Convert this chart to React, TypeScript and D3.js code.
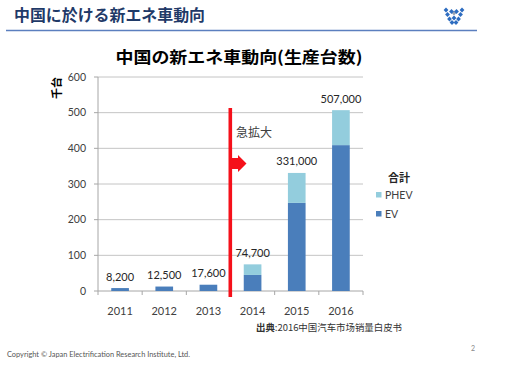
import React from 'react';
import * as d3 from 'd3';

const years = ['2011', '2012', '2013', '2014', '2015', '2016'];
const evValues = [8.2, 12.5, 17.6, 45, 247, 409];
const phevValues = [0, 0, 0, 29.7, 84, 98];
const totalLabels = ['8,200', '12,500', '17,600', '74,700', '331,000', '507,000'];
const yTicks = [0, 100, 200, 300, 400, 500, 600];
const seriesNames = ['PHEV', 'EV'];

const EV_COLOR = '#4a7ebb';
const PHEV_COLOR = '#93cddd';
const FONT = 'Lato, "Open Sans", "Noto Sans", sans-serif';
const JP = '"Noto Sans CJK JP", "Noto Sans", sans-serif';

export default function App() {
  const x = d3.scaleBand<string>().domain(years).range([98, 363]).paddingInner(0.6).paddingOuter(0.3);
  const y = d3.scaleLinear().domain([0, 600]).range([291, 77]);
  const step = x.step();
  const boundaries = d3.range(years.length + 1).map((i) => 98 + i * step);

  const B = '#2d6cc0';
  const logoPts: [number, number, string][] = [
    [446, 10, B], [447.5, 14.5, B], [449.5, 19, B], [452, 22.5, B], [454, 18, B],
    [456, 22.5, B], [458.5, 19, B], [460.5, 14.5, B], [462, 10, B], [454, 13, '#9aa5b5'], [451.5, 11.5, B], [456.5, 11.5, B],
  ];

  return (
    <svg width={505} height={376} style={{ position: 'absolute', left: 0, top: 0, background: '#fff' }}>
      <rect x={0} y={0} width={505} height={376} fill="#fff" />
      {/* header */}
      <text x={14} y={21} fontFamily={JP} fontWeight={700} fontSize={15.5} fill="#1f3a68" textLength={191} lengthAdjust="spacingAndGlyphs">中国に於ける新エネ車動向</text>
      <line x1={6} x2={477} y1={30.5} y2={30.5} stroke="#5b7fbf" strokeWidth={1.6} />
      {logoPts.map(([cx, cy, c], i) => (
        <rect key={i} x={cx - 1.7} y={cy - 1.7} width={3.4} height={3.4} fill={c} transform={`rotate(45 ${cx} ${cy})`} />
      ))}

      {/* chart title */}
      <text x={239} y={63} textAnchor="middle" fontFamily={JP} fontWeight={700} fontSize={16} fill="#000" textLength={247} lengthAdjust="spacingAndGlyphs">中国の新エネ車動向(生産台数)</text>

      {/* y-axis title */}
      <text transform="translate(61,88) rotate(-90)" textAnchor="middle" fontFamily={JP} fontWeight={700} fontSize={11} fill="#000">千台</text>

      {/* gridlines */}
      {yTicks.filter((t) => t > 0).map((t) => (
        <line key={t} x1={98} x2={363} y1={y(t)} y2={y(t)} stroke="#c4c4c4" strokeWidth={1} />
      ))}
      {/* y axis */}
      <line x1={98} x2={98} y1={y(600)} y2={y(0)} stroke="#a6a6a6" />
      {yTicks.map((t) => (
        <g key={t}>
          <line x1={94} x2={98} y1={y(t)} y2={y(t)} stroke="#a6a6a6" />
          <text x={86} y={y(t) + 3.8} textAnchor="end" fontFamily={FONT} fontSize={10.5} fill="#404040">{t}</text>
        </g>
      ))}
      {/* x axis */}
      <line x1={98} x2={363} y1={y(0)} y2={y(0)} stroke="#a6a6a6" />
      {boundaries.map((b, i) => (
        <line key={i} x1={b} x2={b} y1={y(0)} y2={y(0) + 4} stroke="#a6a6a6" />
      ))}
      {years.map((yr) => (
        <text key={yr} x={(x(yr) as number) + x.bandwidth() / 2} y={315} textAnchor="middle" fontFamily={FONT} fontSize={11} fill="#404040">{yr}</text>
      ))}

      {/* bars */}
      {years.map((yr, i) => {
        const bx = x(yr) as number;
        const ev = evValues[i];
        const ph = phevValues[i];
        return (
          <g key={yr}>
            <rect x={bx} y={y(ev)} width={x.bandwidth()} height={y(0) - y(ev)} fill={EV_COLOR} />
            {ph > 0 && (
              <rect x={bx} y={y(ev + ph)} width={x.bandwidth()} height={y(ev) - y(ev + ph)} fill={PHEV_COLOR} />
            )}
            <text x={bx + x.bandwidth() / 2} y={y(ev + ph) - 7.5} textAnchor="middle" fontFamily={FONT} fontSize={11} fill="#262626">{totalLabels[i]}</text>
          </g>
        );
      })}

      {/* red divider and arrow */}
      <rect x={228.5} y={108} width={3.6} height={189} fill="#f5101a" />
      <path d="M230,158 L238,158 L238,155 L246.5,163.5 L238,172 L238,169 L230,169 Z" fill="#f5101a" />
      <text x={236} y={137} fontFamily={JP} fontSize={12} fill="#404040">急拡大</text>

      {/* legend */}
      <text x={388} y={181.5} fontFamily={JP} fontWeight={700} fontSize={11} fill="#262626">合計</text>
      {seriesNames.map((s, i) => (
        <g key={s}>
          <rect x={376} y={192 + i * 19} width={5.5} height={5.5} fill={s === 'EV' ? EV_COLOR : PHEV_COLOR} />
          <text x={385} y={198.5 + i * 19} fontFamily={FONT} fontSize={10.5} fill="#404040">{s}</text>
        </g>
      ))}

      {/* source */}
      <text x={256} y={331} fontFamily='"Noto Sans CJK SC", sans-serif' fontSize={9.5} fill="#333" textLength={146} lengthAdjust="spacingAndGlyphs">
        <tspan fontWeight={700}>出典</tspan>
        <tspan>:2016中国汽车市场销量白皮书</tspan>
      </text>

      {/* footer */}
      <text x={7} y={357} fontFamily={FONT} fontSize={7} fill="#555" textLength={183} lengthAdjust="spacingAndGlyphs">Copyright © Japan Electrification Research Institute, Ltd.</text>
      <text x={471} y={351} fontFamily={FONT} fontSize={7} fill="#888">2</text>
    </svg>
  );
}
